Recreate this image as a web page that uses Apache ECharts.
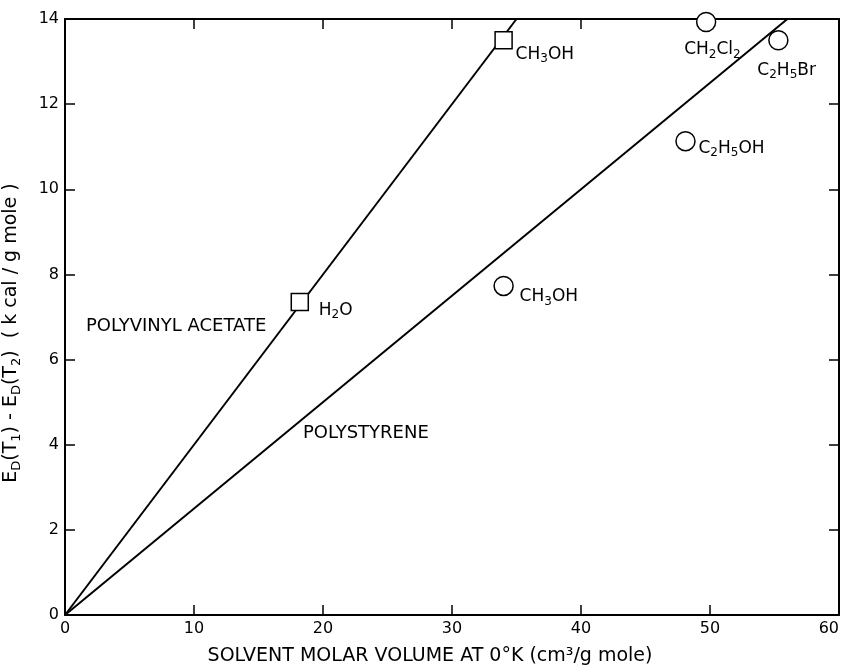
<!DOCTYPE html>
<html>
<head>
<meta charset="utf-8">
<script src="https://cdn.jsdelivr.net/npm/echarts@6/dist/echarts.min.js"></script>
<style>
  html, body { margin: 0; padding: 0; background: #fff; }
  #chart { width: 845px; height: 665px; }
</style>
</head>
<body>
<div id="chart"></div>
<script>
// polyvinyl acetate points (squares)
const pvaX = [18.2, 34.0]
const pvaY = [7.35, 13.5]
const pvaNames = ['H2O', 'CH3OH']
// polystyrene points (circles)
const psX = [34.0, 48.1, 49.7, 55.3]
const psY = [7.73, 11.13, 13.93, 13.5]
const psNames = ['CH3OH', 'C2H5OH', 'CH2Cl2', 'C2H5Br']
// fitted lines through the origin
const pvaLineX = [0, 35]
const pvaLineY = [0, 14]
const psLineX = [0, 56]
const psLineY = [0, 14]
// ticks
const xTicks = [0, 10, 20, 30, 40, 50, 60]
const yTicks = [0, 2, 4, 6, 8, 10, 12, 14]

const FONT = 'DejaVu Sans'

// label text with subscripts as rich text
const richNames = {
  'H2O': '{n|H}{s|2}{n|O}',
  'CH3OH': '{n|CH}{s|3}{n|OH}',
  'C2H5OH': '{n|C}{s|2}{n|H}{s|5}{n|OH}',
  'CH2Cl2': '{n|CH}{s|2}{n|Cl}{s|2}',
  'C2H5Br': '{n|C}{s|2}{n|H}{s|5}{n|Br}'
}
const rich = {
  n: { fontFamily: FONT, fontSize: 17, color: '#000' },
  s: { fontFamily: FONT, fontSize: 12, color: '#000', padding: [10, 0, 0, 0] }
}
const titleRich = {
  s: { fontFamily: FONT, fontSize: 13, color: '#000', padding: [10, 0, 0, 0] }
}
// label offsets from the marker centre, in px
const pvaOffsets = [[19, 8], [12, 14]]
const psOffsets = [[16, 11], [13, 7], [-22, 28], [-21, 30]]

function points(xs, ys, names, offsets) {
  return xs.map((x, i) => ({
    value: [x, ys[i]],
    name: names[i],
    label: { offset: offsets[i] }
  }))
}

let myChart = echarts.init(document.getElementById('chart'))

const axisLine = { show: true, onZero: false, lineStyle: { color: '#000', width: 2 } }
const axisTick = { show: true, inside: true, length: 10, lineStyle: { color: '#000', width: 1.5 } }
const tickLabel = { color: '#000', fontFamily: FONT, fontSize: 16 }

myChart.setOption({
  backgroundColor: '#fff',
  animation: false,
  grid: { left: 65, right: 6, top: 19, bottom: 50, outerBoundsMode: 'none', containLabel: false },
  xAxis: [
    {
      type: 'value', min: xTicks[0], max: xTicks[xTicks.length - 1], interval: 10,
      position: 'bottom',
      axisLine: axisLine, axisTick: axisTick,
      axisLabel: Object.assign({ margin: 6, alignMaxLabel: 'right' }, tickLabel),
      splitLine: { show: false },
      name: 'SOLVENT MOLAR VOLUME AT 0°K (cm³/g mole)',
      nameLocation: 'middle', nameGap: 32,
      nameTextStyle: { color: '#000', fontFamily: FONT, fontSize: 19, padding: [0, 44, 0, 0] }
    },
    {
      type: 'value', min: xTicks[0], max: xTicks[xTicks.length - 1], interval: 10,
      position: 'top',
      axisLine: axisLine, axisTick: axisTick,
      axisLabel: { show: false }, splitLine: { show: false }
    }
  ],
  yAxis: [
    {
      type: 'value', min: yTicks[0], max: yTicks[yTicks.length - 1], interval: 2,
      position: 'left',
      axisLine: axisLine, axisTick: axisTick,
      axisLabel: Object.assign({ margin: 6 }, tickLabel),
      splitLine: { show: false },
      name: 'E{s|D}(T{s|1}) - E{s|D}(T{s|2})  ( k cal / g mole )',
      nameLocation: 'middle', nameGap: 42, nameRotate: 90,
      nameTextStyle: { color: '#000', fontFamily: FONT, fontSize: 19, padding: [0, 32, 0, 0], rich: titleRich }
    },
    {
      type: 'value', min: yTicks[0], max: yTicks[yTicks.length - 1], interval: 2,
      position: 'right',
      axisLine: axisLine, axisTick: axisTick,
      axisLabel: { show: false }, splitLine: { show: false }
    }
  ],
  series: [
    {
      name: 'Polyvinyl acetate fit', type: 'line', symbol: 'none', z: 2,
      data: pvaLineX.map((x, i) => [x, pvaLineY[i]]),
      lineStyle: { color: '#000', width: 2 }
    },
    {
      name: 'Polystyrene fit', type: 'line', symbol: 'none', z: 2,
      data: psLineX.map((x, i) => [x, psLineY[i]]),
      lineStyle: { color: '#000', width: 2 }
    },
    {
      name: 'Polyvinyl acetate', type: 'scatter', symbol: 'rect', symbolSize: 17, z: 3,
      data: points(pvaX, pvaY, pvaNames, pvaOffsets),
      itemStyle: { color: '#fff', borderColor: '#000', borderWidth: 1.5, opacity: 1 },
      label: {
        show: true, position: 'inside', align: 'left', verticalAlign: 'middle',
        formatter: (p) => richNames[p.name], rich: rich
      }
    },
    {
      name: 'Polystyrene', type: 'scatter', symbol: 'circle', symbolSize: 19, z: 3,
      data: points(psX, psY, psNames, psOffsets),
      itemStyle: { color: '#fff', borderColor: '#000', borderWidth: 1.5, opacity: 1 },
      label: {
        show: true, position: 'inside', align: 'left', verticalAlign: 'middle',
        formatter: (p) => richNames[p.name], rich: rich
      }
    }
  ],
  graphic: [
    {
      type: 'text', left: 86, top: 317,
      style: { text: 'POLYVINYL ACETATE', fill: '#000', font: '18px "DejaVu Sans"' }
    },
    {
      type: 'text', left: 303, top: 424,
      style: { text: 'POLYSTYRENE', fill: '#000', font: '18px "DejaVu Sans"' }
    }
  ]
})
</script>
</body>
</html>
